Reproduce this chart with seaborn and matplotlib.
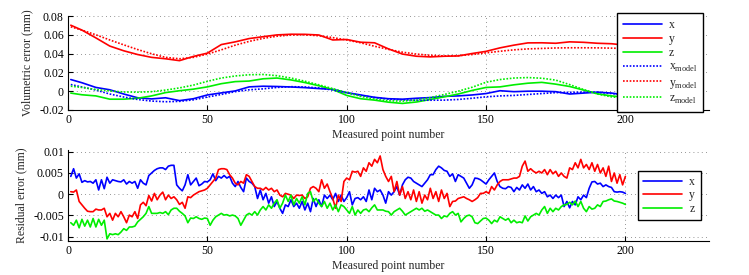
import matplotlib
matplotlib.use("Agg")
import matplotlib.pyplot as plt
import seaborn as sns

# ---- data ------------------------------------------------------------------
# top panel: sampled every 5 measured points
top_n = [1] + list(range(5, 201, 5))
vol_x = [0.0124, 0.0090, 0.0040, 0.0015, -0.0030, -0.0070, -0.0082, -0.0070, -0.0100, -0.0080,
         -0.0040, -0.0018, 0.0003, 0.0046, 0.0053, 0.0050, 0.0045, 0.0038, 0.0028, 0.0020,
         -0.0015, -0.0040, -0.0065, -0.0080, -0.0085, -0.0075, -0.0068, -0.0055, -0.0050, -0.0040,
         -0.0025, 0.0005, -0.0005, 0.0000, 0.0000, -0.0005, -0.0030, -0.0020, -0.0010, -0.0020,
         -0.0040]
vol_y = [0.0702, 0.0650, 0.0567, 0.0480, 0.0430, 0.0390, 0.0360, 0.0345, 0.0325, 0.0370,
         0.0405, 0.0496, 0.0525, 0.0560, 0.0580, 0.0599, 0.0606, 0.0605, 0.0598, 0.0545,
         0.0550, 0.0521, 0.0515, 0.0450, 0.0395, 0.0372, 0.0365, 0.0372, 0.0375, 0.0401,
         0.0424, 0.0461, 0.0490, 0.0514, 0.0515, 0.0510, 0.0525, 0.0520, 0.0510, 0.0505,
         0.0490]
vol_z = [-0.0020, -0.0038, -0.0050, -0.0085, -0.0085, -0.0075, -0.0050, -0.0015, 0.0005, 0.0022,
         0.0046, 0.0080, 0.0102, 0.0108, 0.0132, 0.0140, 0.0120, 0.0092, 0.0058, 0.0018,
         -0.0045, -0.0080, -0.0095, -0.0117, -0.0130, -0.0115, -0.0088, -0.0060, -0.0030, 0.0008,
         0.0040, 0.0046, 0.0068, 0.0085, 0.0094, 0.0075, 0.0050, 0.0012, -0.0028, -0.0050,
         -0.0065]
model_x = [0.0071, 0.0045, 0.0012, -0.0030, -0.0062, -0.0088, -0.0105, -0.0112, -0.0108, -0.0092,
           -0.0062, -0.0035, -0.0005, 0.0015, 0.0025, 0.0040, 0.0048, 0.0045, 0.0035, 0.0012,
           -0.0018, -0.0045, -0.0068, -0.0085, -0.0092, -0.0096, -0.0096, -0.0095, -0.0088, -0.0075,
           -0.0060, -0.0050, -0.0045, -0.0035, -0.0025, -0.0015, -0.0012, -0.0010, -0.0012, -0.0025,
           -0.0040]
model_y = [0.0685, 0.0650, 0.0600, 0.0545, 0.0493, 0.0443, 0.0398, 0.0360, 0.0345, 0.0360,
           0.0395, 0.0440, 0.0490, 0.0530, 0.0562, 0.0585, 0.0598, 0.0600, 0.0590, 0.0570,
           0.0545, 0.0515, 0.0478, 0.0445, 0.0415, 0.0395, 0.0382, 0.0375, 0.0378, 0.0390,
           0.0408, 0.0425, 0.0440, 0.0450, 0.0455, 0.0460, 0.0462, 0.0462, 0.0461, 0.0458,
           0.0455]
model_z = [0.0053, 0.0040, 0.0018, 0.0003, -0.0008, -0.0010, -0.0005, 0.0012, 0.0035, 0.0065,
           0.0105, 0.0140, 0.0162, 0.0175, 0.0178, 0.0165, 0.0140, 0.0106, 0.0068, 0.0028,
           -0.0015, -0.0055, -0.0085, -0.0102, -0.0106, -0.0095, -0.0068, -0.0035, 0.0000, 0.0042,
           0.0095, 0.0124, 0.0140, 0.0145, 0.0138, 0.0118, 0.0070, 0.0018, -0.0030, -0.0060,
           -0.0075]

# bottom panel: every measured point 1..200
res_n = list(range(1, 201))
res_x = [0.0042, 0.0060, 0.0038, 0.0048, 0.0028, 0.0032, 0.0029, 0.0030, 0.0026, 0.0034,
         0.0010, 0.0034, 0.0013, 0.0040, 0.0026, 0.0034, 0.0032, 0.0030, 0.0029, 0.0034,
         0.0024, 0.0030, 0.0026, 0.0030, 0.0014, 0.0034, 0.0026, 0.0022, 0.0044, 0.0050,
         0.0056, 0.0060, 0.0062, 0.0062, 0.0058, 0.0066, 0.0068, 0.0068, 0.0022, 0.0014,
         0.0008, 0.0022, 0.0046, 0.0022, 0.0030, 0.0038, 0.0020, 0.0024, 0.0030, 0.0029,
         0.0034, 0.0048, 0.0032, 0.0042, 0.0038, 0.0044, 0.0038, 0.0042, 0.0026, 0.0018,
         0.0030, 0.0016, 0.0006, 0.0038, 0.0030, 0.0026, 0.0018, -0.0010, 0.0010, -0.0013,
         0.0002, -0.0021, -0.0006, -0.0029, -0.0017, -0.0033, -0.0045, -0.0025, -0.0029, -0.0013,
         -0.0029, -0.0021, -0.0033, -0.0017, -0.0037, -0.0021, -0.0041, -0.0010, -0.0029, -0.0013,
         -0.0029, -0.0002, -0.0010, -0.0002, -0.0013, 0.0002, -0.0017, -0.0002, -0.0017, -0.0008,
         0.0006, -0.0025, -0.0010, -0.0008, -0.0013, -0.0006, -0.0017, 0.0010, -0.0013, 0.0014,
         0.0006, 0.0010, -0.0002, -0.0021, 0.0006, -0.0002, 0.0006, 0.0018, -0.0002, 0.0022,
         0.0034, 0.0040, 0.0038, 0.0030, 0.0026, 0.0022, 0.0018, 0.0026, 0.0034, 0.0046,
         0.0046, 0.0058, 0.0066, 0.0062, 0.0056, 0.0054, 0.0042, 0.0048, 0.0030, 0.0046,
         0.0042, 0.0038, 0.0026, 0.0014, 0.0022, 0.0038, 0.0037, 0.0034, 0.0029, 0.0024,
         0.0034, 0.0042, 0.0050, 0.0030, 0.0018, 0.0014, 0.0013, 0.0018, 0.0016, 0.0006,
         0.0016, 0.0010, 0.0022, 0.0014, 0.0024, 0.0010, 0.0018, 0.0006, 0.0010, 0.0002,
         0.0006, -0.0006, -0.0002, -0.0010, -0.0002, -0.0008, -0.0002, -0.0029, -0.0017, -0.0032,
         -0.0017, -0.0025, -0.0006, -0.0013, -0.0002, -0.0008, 0.0014, 0.0029, 0.0030, 0.0024,
         0.0026, 0.0018, 0.0022, 0.0018, 0.0016, 0.0006, 0.0005, 0.0006, 0.0005, 0.0002]
res_y = [0.0006, 0.0005, 0.0010, -0.0017, -0.0025, -0.0033, -0.0040, -0.0041, -0.0041, -0.0035,
         -0.0037, -0.0037, -0.0033, -0.0053, -0.0045, -0.0061, -0.0045, -0.0053, -0.0041, -0.0053,
         -0.0067, -0.0049, -0.0053, -0.0041, -0.0057, -0.0025, -0.0019, -0.0027, -0.0003, -0.0016,
         0.0002, -0.0013, -0.0002, 0.0005, -0.0013, -0.0002, -0.0010, -0.0006, -0.0013, -0.0024,
         -0.0019, -0.0033, -0.0006, -0.0008, -0.0002, 0.0002, 0.0006, 0.0008, 0.0010, 0.0014,
         0.0022, 0.0030, 0.0038, 0.0058, 0.0060, 0.0060, 0.0058, 0.0046, 0.0038, 0.0026,
         0.0022, 0.0030, 0.0026, 0.0046, 0.0042, 0.0030, 0.0018, 0.0014, 0.0014, 0.0010,
         0.0016, 0.0010, 0.0014, 0.0006, 0.0010, -0.0002, -0.0006, 0.0002, 0.0000, -0.0002,
         -0.0010, -0.0002, -0.0003, -0.0002, -0.0010, -0.0006, 0.0014, 0.0018, 0.0014, 0.0006,
         0.0034, 0.0014, 0.0024, 0.0006, -0.0010, -0.0033, -0.0002, -0.0017, 0.0030, 0.0038,
         0.0034, 0.0054, 0.0052, 0.0054, 0.0042, 0.0062, 0.0054, 0.0074, 0.0066, 0.0082,
         0.0074, 0.0090, 0.0058, 0.0042, 0.0030, 0.0042, 0.0006, 0.0030, -0.0002, 0.0018,
         -0.0010, 0.0006, -0.0013, 0.0010, -0.0017, 0.0006, -0.0021, -0.0002, -0.0013, 0.0014,
         -0.0010, 0.0006, -0.0017, 0.0010, -0.0010, 0.0002, -0.0029, -0.0017, -0.0016, -0.0010,
         -0.0008, -0.0006, -0.0010, -0.0013, -0.0017, -0.0013, -0.0008, 0.0002, 0.0002, 0.0006,
         0.0002, 0.0018, 0.0010, 0.0022, 0.0030, 0.0034, 0.0034, 0.0034, 0.0036, 0.0038,
         0.0038, 0.0042, 0.0066, 0.0078, 0.0054, 0.0060, 0.0054, 0.0050, 0.0054, 0.0050,
         0.0058, 0.0046, 0.0058, 0.0048, 0.0054, 0.0042, 0.0050, 0.0042, 0.0038, 0.0062,
         0.0058, 0.0074, 0.0062, 0.0082, 0.0062, 0.0070, 0.0058, 0.0074, 0.0054, 0.0070,
         0.0050, 0.0062, 0.0042, 0.0066, 0.0030, 0.0050, 0.0026, 0.0046, 0.0022, 0.0042]
res_z = [-0.0067, -0.0073, -0.0061, -0.0079, -0.0059, -0.0075, -0.0061, -0.0077, -0.0057, -0.0077,
         -0.0059, -0.0073, -0.0061, -0.0105, -0.0093, -0.0095, -0.0093, -0.0095, -0.0089, -0.0081,
         -0.0085, -0.0077, -0.0077, -0.0075, -0.0065, -0.0059, -0.0053, -0.0045, -0.0029, -0.0045,
         -0.0045, -0.0045, -0.0043, -0.0045, -0.0041, -0.0048, -0.0037, -0.0033, -0.0033, -0.0040,
         -0.0045, -0.0051, -0.0067, -0.0056, -0.0057, -0.0053, -0.0057, -0.0059, -0.0056, -0.0057,
         -0.0073, -0.0061, -0.0053, -0.0049, -0.0045, -0.0049, -0.0048, -0.0051, -0.0049, -0.0051,
         -0.0057, -0.0073, -0.0061, -0.0049, -0.0045, -0.0049, -0.0041, -0.0049, -0.0037, -0.0029,
         -0.0037, -0.0025, -0.0033, -0.0021, -0.0013, -0.0033, -0.0021, -0.0002, -0.0017, -0.0002,
         -0.0025, -0.0010, -0.0021, -0.0006, -0.0025, 0.0002, 0.0006, -0.0017, -0.0010, -0.0021,
         -0.0029, -0.0017, -0.0033, -0.0021, -0.0037, -0.0025, -0.0041, -0.0025, -0.0029, -0.0037,
         -0.0045, -0.0029, -0.0049, -0.0037, -0.0045, -0.0037, -0.0035, -0.0041, -0.0032, -0.0025,
         -0.0037, -0.0037, -0.0037, -0.0040, -0.0041, -0.0049, -0.0041, -0.0037, -0.0033, -0.0040,
         -0.0049, -0.0045, -0.0041, -0.0037, -0.0033, -0.0037, -0.0033, -0.0040, -0.0037, -0.0041,
         -0.0045, -0.0049, -0.0049, -0.0057, -0.0051, -0.0053, -0.0045, -0.0041, -0.0049, -0.0045,
         -0.0065, -0.0057, -0.0051, -0.0049, -0.0053, -0.0067, -0.0069, -0.0063, -0.0057, -0.0056,
         -0.0061, -0.0069, -0.0061, -0.0065, -0.0053, -0.0057, -0.0061, -0.0057, -0.0067, -0.0061,
         -0.0067, -0.0065, -0.0067, -0.0051, -0.0063, -0.0053, -0.0049, -0.0045, -0.0049, -0.0037,
         -0.0029, -0.0045, -0.0033, -0.0041, -0.0033, -0.0037, -0.0029, -0.0025, -0.0024, -0.0019,
         -0.0025, -0.0016, -0.0029, -0.0017, -0.0033, -0.0041, -0.0029, -0.0035, -0.0033, -0.0025,
         -0.0029, -0.0017, -0.0016, -0.0013, -0.0011, -0.0016, -0.0017, -0.0019, -0.0021, -0.0024]

top_yticks = [-0.02, 0, 0.02, 0.04, 0.06, 0.08]
bot_yticks = [-0.01, -0.005, 0, 0.005, 0.01]
x_ticks = [0, 50, 100, 150, 200]

# ---- style -------------------------------------------------------------------
sns.set_theme(style="white")
plt.rcParams["font.family"] = ["Liberation Serif", "DejaVu Serif"]
plt.rcParams["mathtext.fontset"] = "custom"
plt.rcParams["mathtext.rm"] = "Liberation Serif"
plt.rcParams["axes.unicode_minus"] = False
plt.rcParams["font.size"] = 8.5

BLUE, RED, GREEN = "#0000ff", "#ff0000", "#00ee00"

fig = plt.figure(figsize=(7.49, 2.75), dpi=100)
ax1 = fig.add_axes([0.0908, 0.60, 0.8558, 0.3418])
ax2 = fig.add_axes([0.0908, 0.1236, 0.8558, 0.3309])


def style_axes(ax, yticks, ylim, ylabel):
    ax.set_xlim(0, 230)
    ax.set_ylim(*ylim)
    ax.set_xticks(x_ticks)
    ax.set_yticks(yticks)
    ax.set_yticklabels(["%g" % t for t in yticks])
    ax.set_xlabel("Measured point number", fontsize=8.5, labelpad=2)
    ax.set_ylabel(ylabel, fontsize=8.5, labelpad=4)
    for s in ["top", "right"]:
        ax.spines[s].set_visible(False)
    for s in ["left", "bottom"]:
        ax.spines[s].set_color("black")
        ax.spines[s].set_linewidth(0.8)
    ax.tick_params(direction="in", length=3.5, width=0.8, colors="black",
                   labelsize=8.5, pad=3, left=True, bottom=True)
    ax.grid(True, linestyle=(0, (1, 4)), color="0.45", linewidth=0.6)
    ax.set_facecolor("white")


lw = 1.2
sns.lineplot(x=top_n, y=vol_x, ax=ax1, color=BLUE, lw=lw, label="x")
sns.lineplot(x=top_n, y=vol_y, ax=ax1, color=RED, lw=lw, label="y")
sns.lineplot(x=top_n, y=vol_z, ax=ax1, color=GREEN, lw=lw, label="z")
sns.lineplot(x=top_n, y=model_x, ax=ax1, color=BLUE, lw=lw, linestyle=(0, (1, 1)),
             label=r"x$_{\mathrm{model}}$")
sns.lineplot(x=top_n, y=model_y, ax=ax1, color=RED, lw=lw, linestyle=(0, (1, 1)),
             label=r"y$_{\mathrm{model}}$")
sns.lineplot(x=top_n, y=model_z, ax=ax1, color=GREEN, lw=lw, linestyle=(0, (1, 1)),
             label=r"z$_{\mathrm{model}}$")
style_axes(ax1, top_yticks, (-0.02, 0.08), "Volumetric error (mm)")
ax1.legend(loc="upper left", bbox_to_anchor=(617 / 749, 1 - 13 / 275),
           bbox_transform=fig.transFigure, borderaxespad=0, frameon=True, fancybox=False,
           edgecolor="black", framealpha=1, fontsize=8.5, handlelength=3.3,
           labelspacing=0.18, borderpad=0.5, handletextpad=0.6)
ax1.get_legend().get_frame().set_linewidth(1.0)

sns.lineplot(x=res_n, y=res_x, ax=ax2, color=BLUE, lw=lw, label="x")
sns.lineplot(x=res_n, y=res_y, ax=ax2, color=RED, lw=lw, label="y")
sns.lineplot(x=res_n, y=res_z, ax=ax2, color=GREEN, lw=lw, label="z")
style_axes(ax2, bot_yticks, (-0.011, 0.0104), "Residual error (mm)")
ax2.legend(loc="upper left", bbox_to_anchor=(638 / 749, 1 - 171 / 275),
           bbox_transform=fig.transFigure, borderaxespad=0, frameon=True, fancybox=False,
           edgecolor="black", framealpha=1, fontsize=8.5, handlelength=3.3,
           labelspacing=0.1, borderpad=0.45, handletextpad=0.6)
ax2.get_legend().get_frame().set_linewidth(1.0)

fig.savefig("out.png", dpi=100)
